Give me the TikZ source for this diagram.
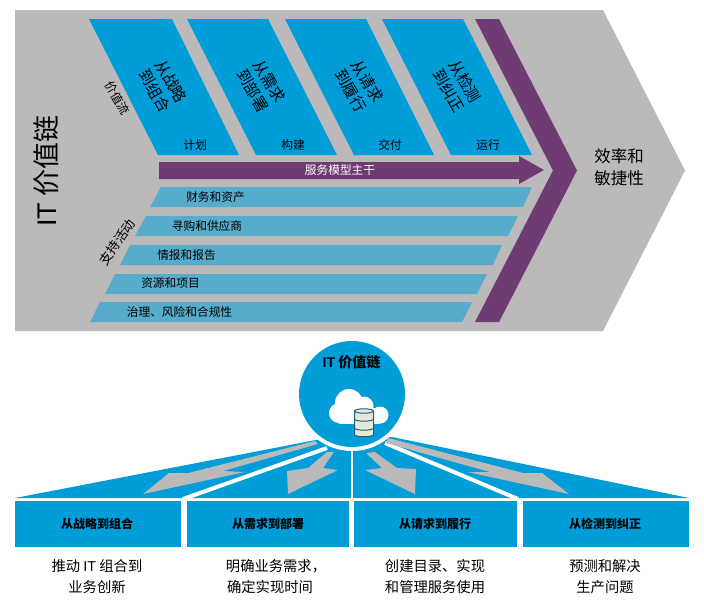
\documentclass[tikz,border=0pt]{standalone}
\usepackage{fontspec}
\setmainfont{Noto Sans CJK SC}
\newfontfamily\latinf{Liberation Sans}
\definecolor{chevgray}{HTML}{BBB9BA}
\definecolor{vblue}{HTML}{009DD9}
\definecolor{lblue}{HTML}{57ABCB}
\definecolor{vpurple}{HTML}{6E3B73}
\definecolor{dbfill}{HTML}{E9E7D8}
\definecolor{dbline}{HTML}{235F80}
\newcommand{\sz}[1]{\fontsize{#1}{#1}\selectfont}
\tikzset{
  x=1pt,y=-1pt,
  stream/.style={fill=vblue,draw=none},
  support/.style={fill=lblue,draw=none},
  spine/.style={fill=vpurple,draw=none},
  grayarrow/.style={fill=chevgray,draw=none},
  whiteline/.style={draw=white,line width=#1},
  header/.style={fill=vblue,draw=none},
  txt/.style={inner sep=0pt,outer sep=0pt,text=black,align=center},
  small/.style={txt,font=\sz{11.7}},
  slanted/.style={txt,rotate=-60,font=\fontsize{15.5}{19}\selectfont},
  head/.style={txt,font=\sz{12}\bfseries},
  desc/.style={txt,font=\sz{14.3}},
  dbstroke/.style={draw=dbline,line width=1pt},
}
\begin{document}
\begin{tikzpicture}
\useasboundingbox (0,0) rectangle (704,613);
% chevron background
\fill[chevgray] (15,10) -- (603,10) -- (685,170.5) -- (603,331) -- (15,331) -- cycle;
% value streams
\fill[stream] (89,19) -- (172,19) -- (239,155) -- (158,155) -- cycle;
\fill[stream] (187,19) -- (268,19) -- (337,155) -- (256,155) -- cycle;
\fill[stream] (285,19) -- (366,19) -- (434,155) -- (354,155) -- cycle;
\fill[stream] (382,19) -- (463,19) -- (532,155) -- (451,155) -- cycle;
% purple chevron and arrow
\fill[spine] (475,19) -- (499,19) -- (577,170.5) -- (499,322) -- (475,322) -- (553,170.5) -- cycle;
\fill[spine] (159,162) -- (519,162) -- (519,156) -- (544,170) -- (519,184) -- (519,179) -- (159,179) -- cycle;
% support bars
\fill[support] (161,187) -- (532,187) -- (523,207) -- (150,207) -- cycle;
\fill[support] (146,216) -- (518,216) -- (508,236) -- (135,236) -- cycle;
\fill[support] (130,245) -- (502,245) -- (493,265) -- (120,265) -- cycle;
\fill[support] (115,274) -- (487,274) -- (477,294) -- (105,294) -- cycle;
\fill[support] (100,302) -- (472,302) -- (462,322) -- (90,322) -- cycle;
% upper texts
\node[txt,rotate=90,font=\sz{27}] (title) at (46,171) {{\latinf IT} 价值链};
\node[txt,rotate=-60,font=\sz{12}] (vstream) at (117,98) {价值流};
\node[txt,rotate=55,font=\sz{13}] (sact) at (117,242) {支持活动};
\node[slanted] (s1) at (163,86) {从战略\\到组合};
\node[slanted] (s2) at (261,86) {从需求\\到部署};
\node[slanted] (s3) at (359,86) {从请求\\到履行};
\node[slanted] (s4) at (457,86) {从检测\\到纠正};
\node[small] (p1) at (195,145) {计划};
\node[small] (p2) at (293,145) {构建};
\node[small] (p3) at (390,145) {交付};
\node[small] (p4) at (488,145) {运行};
\node[small,text=white] (backbone) at (340,170) {服务模型主干};
\node[small] (b1) at (215.5,197) {财务和资产};
\node[small] (b2) at (207,226) {寻购和供应商};
\node[small] (b3) at (186.5,255) {情报和报告};
\node[small] (b4) at (170.5,283) {资源和项目};
\node[small] (b5) at (179.5,312) {治理、风险和合规性};
\node[txt,font=\sz{16.5}] (eff1) at (619,156) {效率和};
\node[txt,font=\sz{16.5}] (eff2) at (619,178) {敏捷性};
% lower fan
\fill[vblue] (15,498) -- (316,440) -- (392,437) -- (689,498) -- cycle;
\fill[white] (352,394) circle (57);
\path[whiteline=4pt,draw] (327,448) -- (183,499);
\path[whiteline=4pt,draw] (385,443) -- (518,499);
\path[whiteline=2.4pt,draw] (352,448) -- (352,499);
\fill[grayarrow] (315,441) -- (188,473) -- (169,473) -- (143,494) -- (245,472) -- (223,471) -- (318,444) -- cycle;
\fill[grayarrow] (327,452) -- (308,468) -- (287,471) -- (288,494) -- (338,470) -- (323,468) -- (334,452) -- cycle;
\fill[grayarrow] (366,453) -- (382,468) -- (365,470) -- (415,494) -- (416,469) -- (397,468) -- (375,452) -- cycle;
\fill[grayarrow] (388,438) -- (523,473) -- (542,473) -- (569,494) -- (467,472) -- (490,472) -- (386,443) -- cycle;
% hub
\fill[vblue] (352,394) circle (53);
\node[txt,font=\sz{14}\bfseries] (hub) at (351.5,362) {{\latinf IT} 价值链};
% cloud
\fill[white] (349,403) circle (14);
\fill[white] (339,413) circle (10);
\fill[white] (380,415) circle (8.5);
\fill[white] (364,406) circle (9.5);
\fill[white] (339,408) rectangle (380,423.5);
% database
\draw[fill=dbfill,dbstroke] (354.5,411) -- (354.5,434.5) arc[start angle=180,end angle=360,x radius=9.5,y radius=-2.2] -- (373.5,411) arc[start angle=0,end angle=360,x radius=9.5,y radius=-2.2];
\draw[dbstroke] (354.5,419) arc[start angle=180,end angle=360,x radius=9.5,y radius=-2.2];
\draw[dbstroke] (354.5,428) arc[start angle=180,end angle=360,x radius=9.5,y radius=-2.2];
% header blocks
\fill[header] (15,501) rectangle (181,547);
\fill[header] (187,501) rectangle (349,547);
\fill[header] (354,501) rectangle (517,547);
\fill[header] (523,501) rectangle (689,547);
\node[head] (h1) at (97,524) {从战略到组合};
\node[head] (h2) at (268,524) {从需求到部署};
\node[head] (h3) at (435,524) {从请求到履行};
\node[head] (h4) at (605,524) {从检测到纠正};
\node[desc] (d1a) at (97,566) {推动 {\latinf IT} 组合到};
\node[desc] (d1b) at (97,587) {业务创新};
\node[desc] (d2a) at (276,566) {明确业务需求，};
\node[desc] (d2b) at (270,587) {确定实现时间};
\node[desc] (d3a) at (435,566) {创建目录、实现};
\node[desc] (d3b) at (435,587) {和管理服务使用};
\node[desc] (d4a) at (605,566) {预测和解决};
\node[desc] (d4b) at (605,587) {生产问题};
\end{tikzpicture}
\end{document}
